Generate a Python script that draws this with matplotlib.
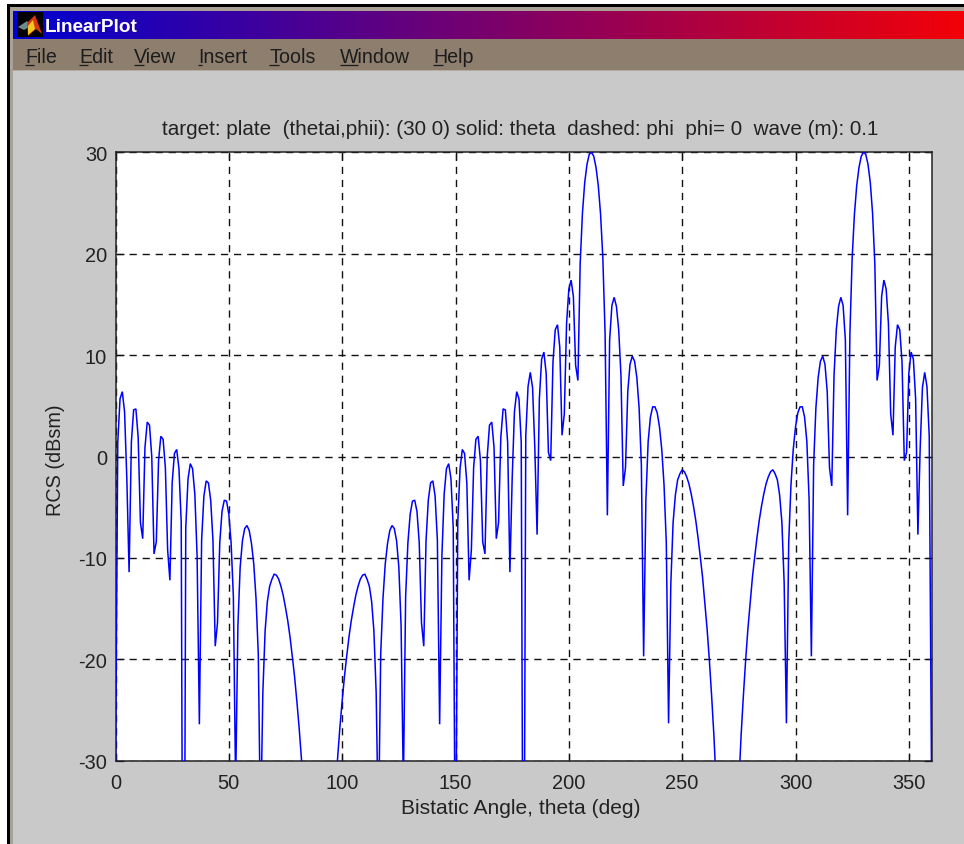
import numpy as np
import matplotlib
matplotlib.use("Agg")
import matplotlib.pyplot as plt
from matplotlib.patches import Rectangle, Polygon

# ---- data --------------------------------------------------------------
theta = np.arange(0, 361)
rcs_000_090 = [-31, 1.4, 5.7, 6.4, 4.4, -2.2, -11.4, 1.4, 4.6, 4.7, 1.9,
               -6.5, -8.1, 0.9, 3.4, 3.1, 0.0, -9.6, -8.4, -0.4, 2.0,
               1.7, -1.1, -9.2, -12.2, -2.6, 0.3, 0.7, -1.2, -6.5, -70,
               -7.0, -2.2, -0.7, -1.2, -3.7, -9.8, -26.4, -8.2, -3.9, -2.4,
               -2.6, -4.3, -8.3, -18.7, -16.4, -8.5, -5.4, -4.3, -4.4, -5.7,
               -8.5, -13.8, -32.5, -16.7, -10.9, -8.3, -7.1, -6.8, -7.3, -8.6,
               -10.6, -14.0, -19.5, -37.2, -23.3, -17.2, -14.3, -12.8, -12.1, -11.6,
               -11.7, -12.1, -12.8, -13.7, -14.9, -16.2, -17.8, -19.7, -21.7, -24.1,
               -26.7, -29.7, -33.2, -37.1, -41.9, -47.8, -54.9, -65.9, -83.9, -90]
rcs_091_180 = [-83.9, -65.9, -54.9, -47.8, -41.9, -37.1, -33.2, -29.7, -26.7, -24.1,
               -21.7, -19.7, -17.8, -16.2, -14.9, -13.7, -12.8, -12.1, -11.7, -11.6,
               -12.1, -12.8, -14.3, -17.2, -23.3, -37.2, -19.5, -14.0, -10.6, -8.6,
               -7.3, -6.8, -7.1, -8.3, -10.9, -16.7, -32.5, -13.8, -8.5, -5.7,
               -4.4, -4.3, -5.4, -8.5, -16.4, -18.7, -8.3, -4.3, -2.6, -2.4,
               -3.9, -8.2, -26.4, -9.8, -3.7, -1.2, -0.7, -2.2, -7.0, -45,
               -6.5, -1.2, 0.7, 0.3, -2.6, -12.2, -9.2, -1.1, 1.7, 2.0,
               -0.4, -8.4, -9.6, 0.0, 3.1, 3.4, 0.9, -8.1, -6.5, 1.9,
               4.7, 4.6, 1.4, -11.4, -2.2, 4.4, 6.4, 5.7, 1.4, -60]
rcs_181_270 = [2.0, 6.9, 8.3, 6.8, 0.8, -7.7, 5.7, 9.6, 10.3, 8.2,
               0.4, -0.4, 9.3, 12.5, 13.0, 10.8, 2.1, 4.2, 13.1, 16.5,
               17.4, 15.8, 9.0, 7.5, 19.0, 24.0, 27.0, 28.8, 29.8, 30.0,
               29.6, 28.5, 26.7, 23.9, 19.6, 12.1, -5.8, 11.5, 14.9, 15.7,
               14.8, 12.5, 8.0, -2.9, -1.1, 6.4, 9.1, 9.9, 9.4, 7.8,
               4.8, -0.8, -19.7, -4.2, 1.5, 3.9, 4.9, 4.9, 4.3, 2.9,
               0.7, -2.8, -8.5, -26.3, -12.5, -6.5, -3.8, -2.3, -1.7, -1.3,
               -1.5, -2.0, -2.7, -3.7, -4.9, -6.3, -8.0, -9.9, -11.9, -14.4,
               -17.0, -20.1, -23.6, -27.5, -32.3, -38.2, -45.3, -56.4, -74.4, -90]
rcs_271_360 = [-74.4, -56.4, -45.3, -38.2, -32.3, -27.5, -23.6, -20.1, -17.0, -14.4,
               -11.9, -9.9, -8.0, -6.3, -4.9, -3.7, -2.7, -2.0, -1.5, -1.3,
               -1.7, -2.3, -3.8, -6.5, -12.5, -26.3, -8.5, -2.8, 0.7, 2.9,
               4.3, 4.9, 4.9, 3.9, 1.5, -4.2, -19.7, -0.8, 4.8, 7.8,
               9.4, 9.9, 9.1, 6.4, -1.1, -2.9, 8.0, 12.5, 14.8, 15.7,
               14.9, 11.5, -5.8, 12.1, 19.6, 23.9, 26.7, 28.5, 29.6, 30.0,
               29.8, 28.8, 27.0, 24.0, 19.0, 7.5, 9.0, 15.8, 17.4, 16.5,
               13.1, 4.2, 2.1, 10.8, 13.0, 12.5, 9.3, -0.4, 0.4, 8.2,
               10.3, 9.6, 5.7, -7.7, 0.8, 6.8, 8.3, 6.9, 2.0, -31]
rcs = rcs_000_090 + rcs_091_180 + rcs_181_270 + rcs_271_360

x_ticks = [0, 50, 100, 150, 200, 250, 300, 350]
y_ticks = [-30, -20, -10, 0, 10, 20, 30]
title_text = "target: plate  (thetai,phii): (30 0) solid: theta  dashed: phi  phi= 0  wave (m): 0.1"
x_label = "Bistatic Angle, theta (deg)"
y_label = "RCS (dBsm)"
window_title = "LinearPlot"
menu_items = ["File", "Edit", "View", "Insert", "Tools", "Window", "Help"]
menu_x = [25, 79, 134, 198, 269, 340, 433]
menu_ul = [8.5, 8.5, 9.5, 4, 10, 17.5, 9.5]

# ---- style ---------------------------------------------------------------
W, H = 964, 845
GRAY = "#c8c9c8"
MENU = "#8d7e6e"
BEIGE = "#a9a195"
TXT = "#222222"
plt.rcParams["font.family"] = ["Liberation Sans", "DejaVu Sans"]
plt.rcParams["axes.unicode_minus"] = False

fig = plt.figure(figsize=(W / 100, H / 100), dpi=100, facecolor="white")

# window chrome, in pixel coordinates
bg = fig.add_axes([0, 0, 1, 1])
bg.set_xlim(0, W)
bg.set_ylim(H, 0)
bg.axis("off")
bg.add_patch(Rectangle((7, 5), W - 7, H - 5, fc="black", lw=0))
bg.add_patch(Rectangle((10, 8), W - 10, H - 8, fc=BEIGE, lw=0))
bg.add_patch(Rectangle((13, 12), W - 13, H - 12, fc=GRAY, lw=0))
bg.add_patch(Rectangle((13, 40), W - 13, 31, fc=MENU, lw=0))
bg.add_patch(Rectangle((13, 71), W - 13, 1, fc="#b4aca2", lw=0))
grad = np.zeros((1, 256, 3))
grad[0, :, 0] = np.linspace(0.0, 0.95, 256)
grad[0, :, 2] = np.linspace(0.82, 0.03, 256)
bg.imshow(grad, extent=(13, W, 40, 12), aspect="auto", interpolation="bilinear", zorder=2)
bg.set_xlim(0, W)
bg.set_ylim(H, 0)

# window icon
bg.add_patch(Rectangle((17, 13), 26, 25, fc="black", lw=0, zorder=3))
bg.add_patch(Polygon([(18, 28), (27, 22), (31, 27), (24, 31)], fc="#6f8a90", lw=0, zorder=4))
bg.add_patch(Polygon([(35, 16), (42, 35), (36, 30), (28, 37), (27, 24)], fc="#d8340f", lw=0, zorder=4))
bg.add_patch(Polygon([(33, 21), (35, 30), (28, 36), (28, 27)], fc="#f2c81e", lw=0, zorder=5))

bg.text(44.5, 27.5, window_title, color="white", fontsize=13.7, fontweight="bold", va="center", ha="left", zorder=6)
for name, mx, ul in zip(menu_items, menu_x, menu_ul):
    bg.text(mx, 57.5, name, color="#1c1c1c", fontsize=14.1, va="center", ha="left", zorder=6)
    bg.plot([mx, mx + ul], [65.5, 65.5], color="#1c1c1c", lw=0.9, zorder=6, solid_capstyle="butt")

# the plot
L, R, T, B = 115.5, 931.5, 153.3, 761.8
ax = fig.add_axes([L / W, 1 - B / H, (R - L) / W, (B - T) / H], facecolor="white")
ax.plot(theta, rcs, color="#0000ff", lw=1.1, solid_joinstyle="miter", zorder=3)
ax.set_xlim(0, 360)
ax.set_ylim(-30, 30)
ax.set_xticks(x_ticks)
ax.set_yticks(y_ticks)
ax.set_axisbelow(True)
ax.grid(True, color="#111111", lw=1.0, linestyle=(0, (5.2, 4.2)))
ax.tick_params(direction="in", length=5.8, width=0.9, top=True, right=True,
               color="#111111", labelcolor=TXT, labelsize=14.4, pad=6)
ax.tick_params(axis="x", pad=9)
for s in ax.spines.values():
    s.set_linewidth(1.1)
    s.set_color("#222222")
fig.text(520 / W, 1 - 129.5 / H, title_text, color=TXT, fontsize=14.9, ha="center", va="center")
fig.text(520.5 / W, 1 - 808.5 / H, x_label, color=TXT, fontsize=15.1, ha="center", va="center")
fig.text(55.5 / W, 1 - 460 / H, y_label, color=TXT, fontsize=14.3, ha="center", va="center", rotation=90)

fig.savefig("out.png", dpi=100)
